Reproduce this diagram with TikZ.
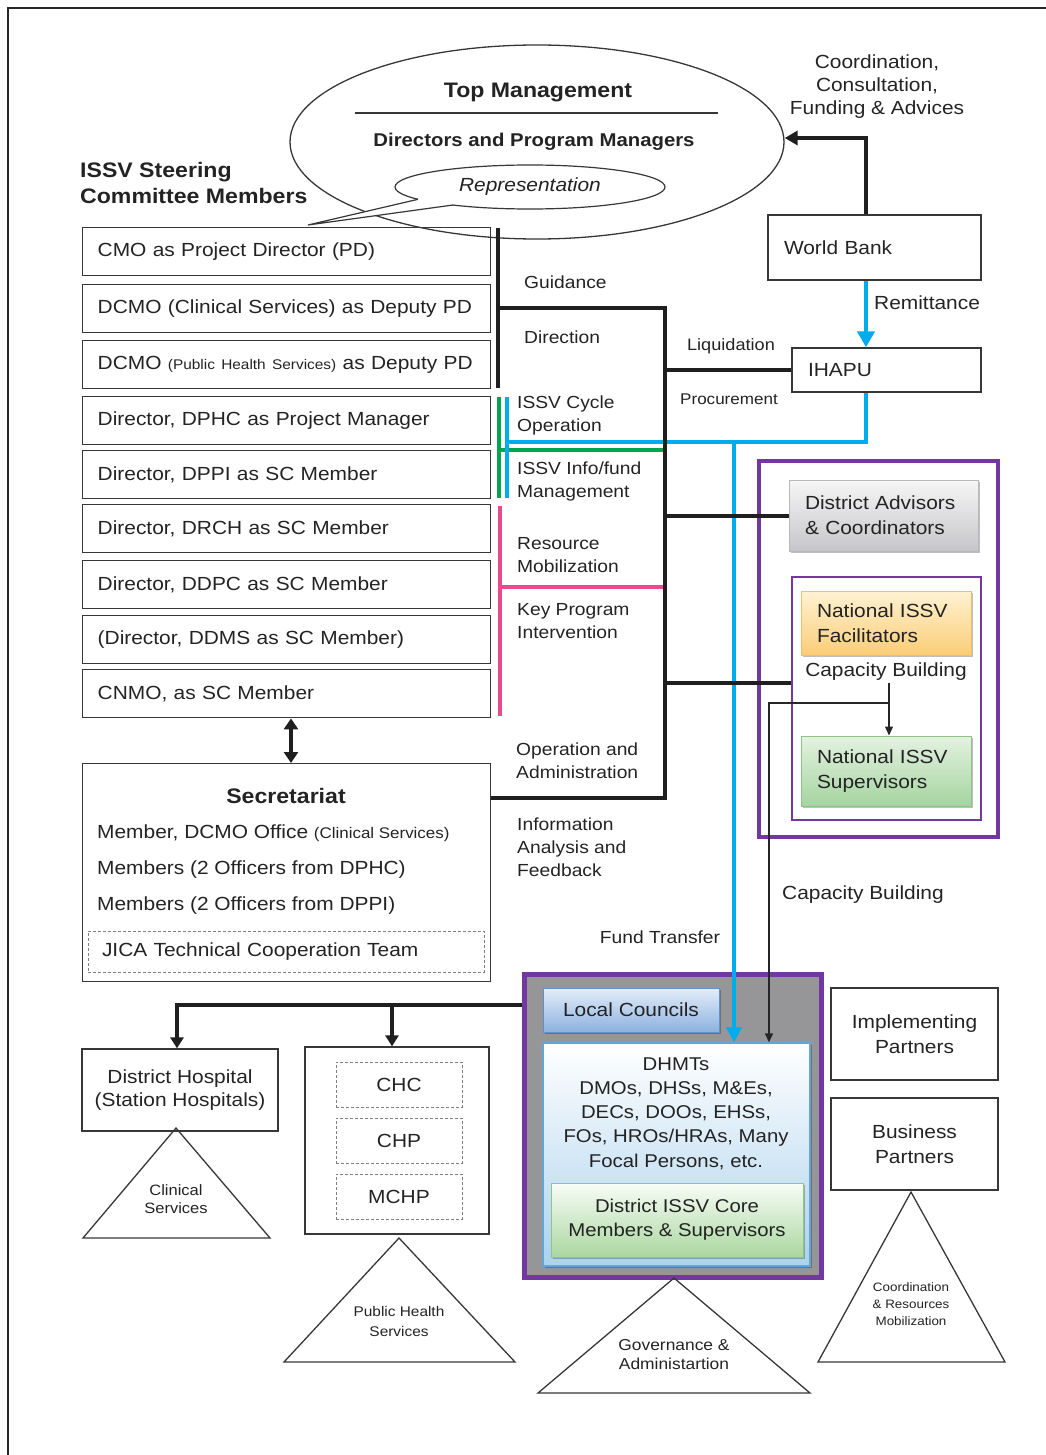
\documentclass[tikz,border=0pt]{standalone}
\usepackage{fontspec}
\setmainfont{Liberation Sans}[FakeStretch=1.1]
\usetikzlibrary{shapes.geometric,arrows.meta,shadows}
\definecolor{cblue}{RGB}{0,172,236}
\definecolor{cgreen}{RGB}{0,165,80}
\definecolor{cpink}{RGB}{236,74,142}
\definecolor{cpurple}{RGB}{115,55,160}
\definecolor{boxline}{RGB}{55,55,55}
\definecolor{txt}{RGB}{35,35,35}
\definecolor{pgray}{RGB}{150,150,152}
\newcommand\myfbase{\fontsize{19}{23}\selectfont}
\newcommand\myfmid{\fontsize{17.5}{23}\selectfont}
\newcommand\myftitle{\fontsize{21}{26}\selectfont\bfseries}
\newcommand\myfsub{\fontsize{18.5}{22}\selectfont\bfseries}
\newcommand\myfrep{\fontsize{19}{22}\selectfont\itshape}
\newcommand\myfbox{\fontsize{19}{25}\selectfont}
\newcommand\myfdh{\fontsize{18.5}{24.3}\selectfont}
\tikzset{
  every node/.append style={text=txt},
  lbox/.style={draw=boxline, line width=1.4pt, minimum height=48pt, text width=378pt,
    inner xsep=15pt, inner ysep=0pt, align=left, anchor=north west, font=\myfbase},
  plainbox/.style={draw=boxline, line width=1.3pt, inner sep=0pt},
  lbl/.style={font=\myfmid, align=left, anchor=west, inner sep=0pt},
  blk/.style={line width=4pt, draw=black!88},
  thinblk/.style={line width=1.3pt, draw=black!85},
  bluel/.style={line width=4pt, draw=cblue},
  greenl/.style={line width=4pt, draw=cgreen},
  pinkl/.style={line width=4pt, draw=cpink},
  bigtip/.style={-{Triangle[width=13pt,length=11pt]}},
  smalltip/.style={-{Triangle[width=8pt,length=9pt]}},
  shd/.style={drop shadow={shadow xshift=1.5pt, shadow yshift=-1.5pt, fill=black, opacity=0.25}},
  tri/.style={draw=boxline, line width=1.3pt},
  dashbox/.style={draw=gray, densely dashed, line width=1pt, minimum width=126pt, minimum height=45pt, font=\myfbase},
}
\begin{document}
\begin{tikzpicture}[x=1pt,y=-1pt]
\useasboundingbox (0,0) rectangle (1045,1455);
% outer frame
\draw[line width=1.5pt, draw=black!85] (8,1480) -- (8,8) -- (1070,8);

% ---------- Top management ellipse ----------
\node[ellipse, draw=boxline, line width=1.3pt, minimum width=494pt, minimum height=194pt, inner sep=0pt] (top) at (537,142) {};
\node[font=\myftitle] (toptxt) at (538,93) {Top Management};
\draw[line width=1.2pt, draw=boxline] (355,113) -- (718,113);
\node[font=\myfsub] (dirtxt) at (534,142) {Directors and Program Managers};

% callout
\node[ellipse, draw=boxline, fill=white, line width=1.2pt, minimum width=270pt, minimum height=44pt, inner sep=0pt, font=\myfrep] (rep) at (530,187) {Representation};
\coordinate (t1) at (418,199.3);
\coordinate (t2) at (453,205);
\coordinate (tip) at (308,225);
\fill[white] (t1) -- (tip) -- (t2) -- (450,200) -- (420,195) -- cycle;
\draw[line width=1.2pt, draw=boxline] (t1) -- (tip) -- (t2);

\node[font=\myftitle, align=left, anchor=west, inner sep=0pt] (steer) at (80,183) {ISSV Steering\\Committee Members};

% ---------- Steering committee boxes ----------
\node[lbox] (b1) at (82,227) {CMO as Project Director (PD)};
\node[lbox] (b2) at (82,284) {DCMO (Clinical Services) as Deputy PD};
\node[lbox] (b3) at (82,340) {\makebox[0pt][l]{DCMO {\fontsize{14}{17}\selectfont(Public Health Services)} as Deputy PD}};
\node[lbox] (b4) at (82,396) {Director, DPHC as Project Manager};
\node[lbox] (b5) at (82,450) {Director, DPPI as SC Member};
\node[lbox] (b6) at (82,504) {Director, DRCH as SC Member};
\node[lbox] (b7) at (82,560) {Director, DDPC as SC Member};
\node[lbox] (b8) at (82,615) {(Director, DDMS as SC Member)};
\node[lbox] (b9) at (82,669) {CNMO, as SC Member};

% ---------- Secretariat ----------
\node[plainbox, line width=1.4pt, minimum width=408pt, minimum height=218pt, anchor=north west] (sec) at (82,763) {};
\node[font=\myftitle] (sect) at (286,796) {Secretariat};
\node[font=\myfbase, anchor=west, inner sep=0pt] (sec1) at (97,833) {Member, DCMO Office {\fontsize{15.4}{18}\selectfont(Clinical Services)}};
\node[font=\myfbase, anchor=west, inner sep=0pt] (sec2) at (97,870) {Members (2 Officers from DPHC)};
\node[font=\myfbase, anchor=west, inner sep=0pt] (sec3) at (97,906) {Members (2 Officers from DPPI)};
\node[draw=gray, densely dashed, line width=1pt, minimum width=396pt, minimum height=41pt, text width=368pt, inner xsep=14pt, inner ysep=0pt, align=left, font=\myfbase] (jica) at (286,951.5) {JICA Technical Cooperation Team};

% ---------- World Bank / IHAPU ----------
\node[plainbox, minimum width=213pt, minimum height=65pt, text width=181pt, inner xsep=16pt, align=left, font=\myfbase] (wb) at (874.5,247.5) {World Bank};
\node[plainbox, minimum width=189pt, minimum height=44pt, text width=157pt, inner xsep=16pt, align=left, font=\myfbase] (ihapu) at (886.5,370) {IHAPU};
\node[font=\myfbase, align=center, inner sep=0pt] (coord) at (877,87) {Coordination,\\Consultation,\\Funding \& Advices};

% ---------- Purple frames (right) ----------
\node[draw=cpurple, line width=4pt, minimum width=239pt, minimum height=376pt, inner sep=0pt] (pout) at (878.5,649) {};
\node[draw=cpurple, line width=1.3pt, minimum width=189pt, minimum height=243pt, inner sep=0pt] (pin) at (886.5,698.5) {};
\node[shd, draw={rgb,255:red,185;green,185;blue,188}, line width=1pt, top color={rgb,255:red,246;green,246;blue,246}, bottom color={rgb,255:red,198;green,198;blue,202}, minimum width=189pt, minimum height=71pt, text width=157pt, inner xsep=16pt, align=left, font=\myfbox] (da) at (883.5,515.5) {District Advisors\\\& Coordinators};
\node[shd, draw={rgb,255:red,245;green,190;blue,100}, line width=1pt, top color={rgb,255:red,255;green,242;blue,210}, bottom color={rgb,255:red,250;green,205;blue,120}, minimum width=170pt, minimum height=64pt, text width=138pt, inner xsep=16pt, align=left, font=\myfbox] (fac) at (886,623) {National ISSV\\Facilitators};
\node[shd, draw={rgb,255:red,140;green,195;blue,135}, line width=1pt, top color={rgb,255:red,228;green,242;blue,225}, bottom color={rgb,255:red,165;green,212;blue,160}, minimum width=170pt, minimum height=70pt, text width=138pt, inner xsep=16pt, align=left, font=\myfbox] (sup) at (886,771) {National ISSV\\Supervisors};
\node[font=\myfbase, inner sep=0pt] (capin) at (886,672) {Capacity Building};

% ---------- District purple box ----------
\node[shd, draw=cpurple, fill=pgray, line width=5pt, minimum width=297pt, minimum height=303pt, inner sep=0pt] (pbox) at (672.5,1125.5) {};
\node[shd, draw={rgb,255:red,95;green,145;blue,205}, line width=1pt, top color={rgb,255:red,228;green,237;blue,250}, bottom color={rgb,255:red,140;green,178;blue,222}, minimum width=176pt, minimum height=44pt, inner sep=0pt, font=\myfbase] (lc) at (631,1010) {Local Councils};
\node[shd, draw={rgb,255:red,100;green,165;blue,215}, line width=1.3pt, top color=white, bottom color={rgb,255:red,172;green,210;blue,238}, minimum width=267pt, minimum height=223pt, inner sep=0pt] (dhmt) at (676.5,1154.5) {};
\node[font=\myfdh, align=center, inner sep=0pt] (dhmtt) at (676,1113.5) {DHMTs\\DMOs, DHSs, M\&Es,\\DECs, DOOs, EHSs,\\FOs, HROs/HRAs, Many\\Focal Persons, etc.};
\node[shd, draw={rgb,255:red,140;green,200;blue,130}, line width=1pt, top color={rgb,255:red,248;green,252;blue,246}, bottom color={rgb,255:red,170;green,215;blue,160}, minimum width=252pt, minimum height=74pt, inner sep=0pt, align=center, font=\myfdh] (core) at (677,1220) {District ISSV Core\\Members \& Supervisors};

% ---------- Partners ----------
\node[plainbox, minimum width=167pt, minimum height=92pt, align=center, font=\myfbox] (imp) at (914.5,1034) {Implementing\\Partners};
\node[plainbox, minimum width=167pt, minimum height=92pt, align=center, font=\myfbox] (bus) at (914.5,1144) {Business\\Partners};

% ---------- Bottom left ----------
\node[plainbox, minimum width=196pt, minimum height=82pt, align=center, font=\fontsize{19}{23}\selectfont] (dh) at (180,1090) {District Hospital\\(Station Hospitals)};
\node[plainbox, minimum width=184pt, minimum height=187pt] (ph) at (397,1140.5) {};
\node[dashbox] (chc) at (399,1084.5) {CHC};
\node[dashbox] (chp) at (399,1140.5) {CHP};
\node[dashbox] (mchp) at (399,1196.5) {MCHP};

% ---------- Triangles ----------
\draw[tri] (176,1128) -- (270,1238) -- (83,1238) -- cycle;
\node[font=\fontsize{15}{18}\selectfont, align=center, inner sep=0pt] (clin) at (176,1199) {Clinical\\Services};
\draw[tri] (399,1238) -- (515,1362) -- (284,1362) -- cycle;
\node[font=\fontsize{14}{20}\selectfont, align=center, inner sep=0pt] (pubh) at (399,1321) {Public Health\\Services};
\draw[tri] (674,1278) -- (810,1393) -- (538,1393) -- cycle;
\node[font=\fontsize{15.8}{19}\selectfont, align=center, inner sep=0pt] (gov) at (674,1354.5) {Governance \&\\Administartion};
\draw[tri] (911,1192) -- (1005,1362) -- (818,1362) -- cycle;
\node[font=\fontsize{12.2}{17}\selectfont, align=center, inner sep=0pt] (crm) at (911,1304) {Coordination\\\& Resources\\Mobilization};

% ---------- Coloured lines ----------
\coordinate (gv) at (499,397);
\coordinate (gvb) at (499,498);
\coordinate (gh) at (499,450);
\coordinate (bv) at (507,397);
\coordinate (bvb) at (507,498);
\coordinate (bh) at (507,442);
\coordinate (wbj) at (866,138);
\coordinate (bturn) at (866,442);
\coordinate (bdrop) at (734,442);
\coordinate (pv) at (500,506);
\coordinate (pvb) at (500,716);
\coordinate (ph1) at (500,587);
\coordinate (col) at (665,308);
\coordinate (colb) at (665,798);
\draw[greenl] (gv) -- (gvb);
\draw[greenl] (gh) -- (col |- gh);
\draw[bluel] (bv) -- (bvb);
\draw[bluel] (ihapu.south -| bturn) -- (bturn) -- (bh);
\draw[bluel, -{Triangle[width=15pt,length=15pt]}] (bdrop) -- (dhmt.north -| bdrop);
\draw[bluel, -{Triangle[width=17pt,length=16pt]}] (wb.south -| wbj) -- (ihapu.north -| wbj);
\draw[pinkl] (pv) -- (pvb);
\draw[pinkl] (ph1) -- (col |- ph1);

% ---------- Black lines ----------
\coordinate (bartop) at (498,228);
\coordinate (barbot) at (498,388);
\coordinate (gj) at (498,308);
\coordinate (capj) at (665,683);
\draw[blk] (bartop) -- (barbot);
\draw[blk] (gj) -- (col) -- (colb) -- (sec.east |- colb);
\draw[blk] (col |- ihapu.west) -- (ihapu.west);
\draw[blk] (col |- da.west) -- (da.west);
\draw[blk] (capj) -- (pin.west |- capj);
\draw[blk, -{Triangle[width=14pt,length=13pt]}] (wb.north -| wbj) -- (wbj) -- (top.east |- wbj);
\coordinate (dax) at (291,740);
\draw[blk, {Triangle[width=14pt,length=11pt]}-{Triangle[width=14pt,length=11pt]}] (b9.south -| dax) -- (sec.north -| dax);
\coordinate (lj1) at (177,1005);
\coordinate (lj2) at (392,1005);
\draw[blk, bigtip] (pbox.west |- lj1) -- (lj1) -- (dh.north -| lj1);
\draw[blk, bigtip] (lj2) -- (ph.north -| lj2);

% thin capacity lines
\coordinate (cj1) at (889,683);
\coordinate (cj2) at (889,703);
\coordinate (cx) at (769,703);
\draw[thinblk, smalltip] (cj1) -- (sup.north -| cj1);
\draw[thinblk, smalltip] (cj2) -- (cx) -- (dhmt.north -| cx);

% ---------- Labels ----------
\node[lbl] (lguid) at (524,282) {Guidance};
\node[lbl] (ldir) at (524,337) {Direction};
\node[lbl] (lcyc) at (517,415.5) {ISSV Cycle\\Operation};
\node[lbl] (linf) at (517,481.5) {ISSV Info/fund\\Management};
\node[lbl] (lres) at (517,555.5) {Resource\\Mobilization};
\node[lbl] (lkey) at (517,621.5) {Key Program\\Intervention};
\node[lbl] (lope) at (516,760.5) {Operation and\\Administration};
\node[lbl] (linfo) at (517,847) {Information\\Analysis and\\Feedback};
\node[font=\myfmid, inner sep=0pt] (lfund) at (660,937) {Fund Transfer};
\node[font=\fontsize{16.5}{20}\selectfont, inner sep=0pt] (lliq) at (731,346) {Liquidation};
\node[font=\fontsize{15.5}{20}\selectfont, inner sep=0pt] (lproc) at (729,399) {Procurement};
\node[font=\myfbase, anchor=west, inner sep=0pt] (lrem) at (874,303) {Remittance};
\node[font=\myfbase, anchor=west, inner sep=0pt] (lcap) at (782,895) {Capacity Building};
\end{tikzpicture}
\end{document}
